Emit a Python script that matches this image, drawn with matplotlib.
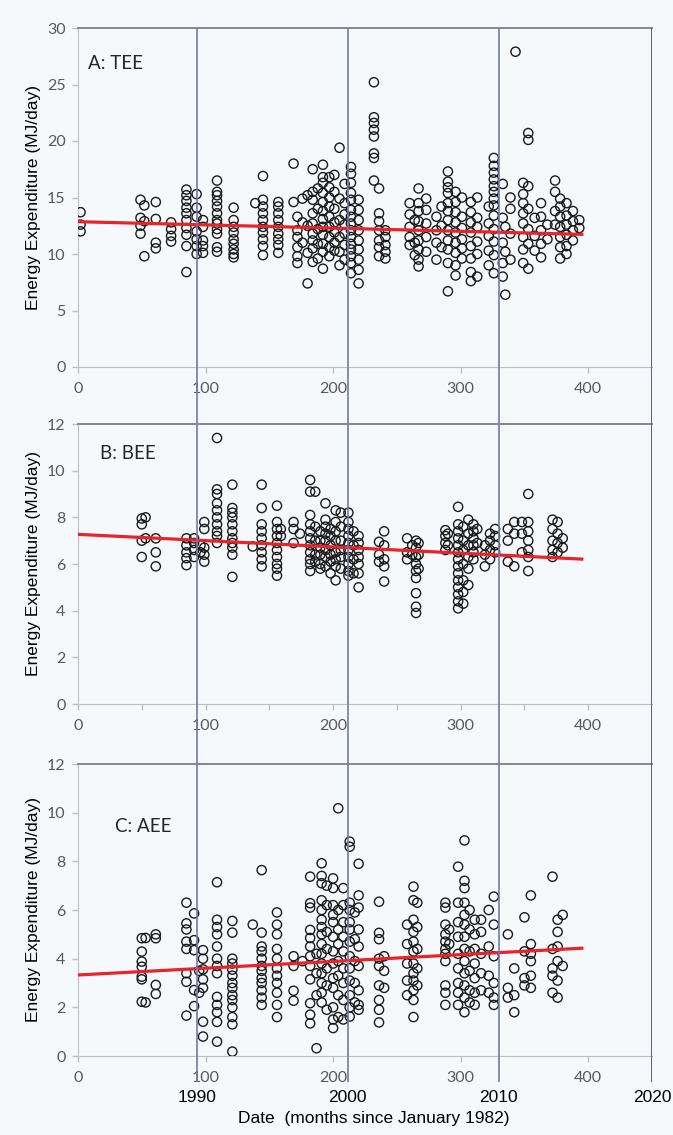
import matplotlib.pyplot as plt
from matplotlib.transforms import blended_transform_factory

# Survey month (months since Jan 1982) and the values measured in that survey
tee_months = [2, 49, 52, 61, 73, 85, 93, 98, 109, 122, 139, 145, 157,
              169, 172, 176, 180, 184, 188, 192, 197, 201, 205, 209, 214, 220,
              232, 236, 241, 260, 264, 267, 273, 281, 285, 290, 296, 301, 308,
              313, 322, 326, 333, 335, 339, 343, 349, 353, 358, 363, 368, 374,
              378, 383, 388, 393]
tee_values = [
    [13.7, 12.6, 12.0],
    [14.8, 13.2, 12.5, 11.8],
    [14.3, 12.9, 9.8],
    [14.6, 13.1, 11.0, 10.5],
    [12.8, 12.2, 11.6, 11.1],
    [15.7, 15.2, 14.7, 14.1, 13.6, 13.0, 12.3, 11.7, 10.7, 8.4],
    [15.3, 14.1, 13.3, 12.0, 11.3, 10.7, 10.0],
    [13.0, 12.4, 11.2, 10.7, 10.1],
    [16.5, 15.5, 15.2, 14.7, 14.2, 13.6, 13.0, 12.7, 12.2, 11.8, 10.6, 10.2],
    [14.1, 13.0, 12.4, 11.9, 11.3, 10.9, 10.4, 10.0, 9.7],
    [14.5],
    [16.9, 14.8, 14.2, 13.6, 13.0, 12.4, 11.9, 11.3, 10.7, 9.9],
    [14.6, 14.2, 13.6, 13.0, 12.4, 11.8, 11.3, 10.8, 10.1],
    [18.0, 14.6],
    [13.3, 12.1, 11.5, 10.6, 9.8, 9.2],
    [14.9, 12.8, 11.0],
    [7.4, 15.2, 12.5, 10.1],
    [17.5, 15.5, 14.8, 13.6, 12.7, 11.8, 11.2, 10.5, 9.3],
    [15.8, 14.0, 12.2, 10.9, 9.6],
    [17.9, 16.8, 16.3, 15.4, 14.6, 13.8, 13.1, 12.4, 11.7, 10.9, 10.2, 8.7],
    [16.8, 15.9, 15.0, 14.2, 13.3, 12.4, 11.5, 10.6, 9.8],
    [17.0, 15.5, 14.0, 12.8, 11.9, 11.0, 10.3],
    [19.4, 14.9, 13.0, 11.5, 10.2, 9.0],
    [16.2, 14.5, 13.5, 12.6, 11.8, 10.8, 9.5],
    [17.7, 17.1, 16.3, 15.4, 14.8, 13.9, 13.3, 12.7, 12.1, 11.5, 10.9, 10.4,
     9.8, 9.2, 8.3],
    [14.8, 13.9, 13.0, 12.1, 11.2, 10.4, 9.5, 8.6, 7.4],
    [25.2, 22.1, 21.6, 21.0, 20.4, 18.9, 18.5, 16.5],
    [15.8, 13.6, 12.9, 12.1, 11.2, 10.6, 9.8],
    [12.1, 11.5, 10.8, 10.2, 9.6],
    [14.5, 13.5, 12.4, 11.5, 10.8],
    [13.0, 11.0, 9.9],
    [15.8, 14.5, 13.8, 12.9, 12.1, 11.2, 10.4, 9.5, 8.9],
    [14.9, 13.9, 12.7, 11.5, 10.2],
    [13.3, 12.1, 11.0, 9.5],
    [14.2, 12.5, 10.6],
    [17.3, 16.4, 15.9, 15.4, 14.5, 13.8, 13.0, 12.1, 11.2, 10.4, 9.2, 6.7],
    [15.5, 14.6, 13.7, 12.8, 11.9, 11.0, 10.1, 9.0, 8.1],
    [15.0, 13.3, 12.3, 11.3, 10.5, 9.6],
    [14.6, 13.7, 12.8, 11.9, 10.7, 9.6, 8.4, 7.6],
    [15.0, 13.2, 12.4, 11.1, 10.0, 8.0],
    [14.2, 12.7, 11.6, 10.3, 9.0],
    [18.5, 17.8, 17.2, 16.6, 16.0, 15.5, 14.9, 14.3, 13.4, 12.2, 11.1, 9.9, 8.3],
    [16.2, 13.2, 11.0, 9.2, 8.0],
    [6.4, 12.4, 10.2],
    [15.0, 14.0, 11.8, 9.5],
    [27.9],
    [16.3, 15.3, 14.5, 13.6, 12.7, 11.5, 10.4, 9.2],
    [20.7, 20.1, 16.0, 14.0, 12.2, 10.9, 8.7],
    [13.2, 11.6, 10.3],
    [14.5, 13.3, 12.1, 10.9, 9.7],
    [12.6, 11.3],
    [16.5, 15.5, 13.8, 12.6],
    [14.9, 14.2, 13.3, 12.4, 11.5, 10.6, 9.6],
    [14.5, 13.4, 12.6, 11.7, 10.7, 10.0],
    [13.8, 12.9, 12.1, 11.2],
    [13.0, 12.3],
]

bee_months = [50, 53, 61, 85, 91, 96, 99, 109, 121, 137, 144, 156, 159, 169,
              174, 182, 186, 190, 194, 198, 202, 206, 212, 216, 220, 236, 240,
              258, 262, 265, 267, 288, 290, 298, 302, 306, 310, 313, 319, 323,
              327, 337, 342, 348, 353, 372, 376, 380]
bee_values = [
    [7.95, 7.7, 7.0, 6.3],
    [8.0, 7.1],
    [7.1, 6.5, 5.9],
    [7.1, 6.8, 6.5, 6.25, 5.95],
    [7.1, 6.9, 6.6, 6.3],
    [6.8, 6.5],
    [7.8, 7.5, 6.7, 6.4, 6.1],
    [11.4, 9.2, 9.0, 8.6, 8.3, 8.0, 7.7, 7.4, 7.2, 6.9],
    [9.4, 8.4, 8.2, 8.0, 7.7, 7.4, 7.1, 6.9, 6.7, 6.4, 5.45],
    [6.75],
    [9.4, 8.4, 7.7, 7.4, 7.1, 6.8, 6.5, 6.2, 5.9],
    [8.5, 7.8, 7.5, 7.2, 6.9, 6.6, 6.3, 6.0, 5.8, 5.5],
    [7.5, 7.2],
    [7.8, 7.5, 6.9],
    [7.3],
    [9.6, 9.1, 8.1, 7.7, 7.4, 7.1, 6.8, 6.5, 6.2, 6.0, 5.7],
    [9.1, 7.6, 7.0, 6.4, 6.1],
    [7.4, 7.0, 6.7, 6.4, 6.0, 5.8],
    [8.6, 7.9, 7.6, 7.3, 7.0, 6.6, 6.3, 5.9],
    [7.5, 7.2, 6.8, 6.4, 6.1, 5.6],
    [8.3, 7.8, 7.4, 7.0, 6.5, 6.2, 5.9, 5.3],
    [8.2, 7.6, 7.0, 6.6, 6.3, 5.8],
    [8.2, 7.8, 7.5, 7.2, 6.9, 6.6, 6.3, 6.0, 5.7, 5.5],
    [7.4, 6.8, 6.2, 5.6],
    [7.2, 6.9, 6.6, 6.3, 6.0, 5.6, 5.0],
    [6.95, 6.4, 6.1],
    [7.4, 6.8, 6.2, 5.9, 5.25],
    [7.1, 6.5, 6.2],
    [6.8, 6.4],
    [7.0, 6.7, 6.3, 6.0, 5.7, 5.4, 4.75, 4.17, 3.9],
    [6.9, 6.4, 5.8],
    [7.45, 7.2, 6.9, 6.6],
    [7.3, 6.8],
    [8.45, 7.7, 7.4, 7.1, 6.8, 6.5, 6.2, 5.9, 5.6, 5.3, 5.0, 4.7, 4.4, 4.1],
    [7.6, 7.0, 6.6, 6.0, 5.3, 4.8, 4.3],
    [7.9, 7.3, 6.8, 6.3, 5.8, 5.1],
    [7.7, 7.4, 7.1, 6.8, 6.5, 6.2],
    [7.5, 6.9],
    [6.8, 6.4, 5.9],
    [7.3, 7.0, 6.6, 6.2],
    [7.5, 7.2, 6.8, 6.5],
    [7.5, 7.0, 6.1],
    [7.8, 7.3, 5.9],
    [7.8, 7.3, 6.5],
    [9.0, 7.8, 7.4, 7.0, 6.6, 6.3, 5.7],
    [7.9, 7.5, 7.0, 6.6, 6.3],
    [7.8, 7.3, 6.9, 6.5],
    [7.1, 6.7],
]

aee_months = [50, 53, 61, 85, 91, 95, 98, 109, 121, 137, 144, 156, 169, 176,
              182, 187, 191, 195, 200, 204, 208, 213, 217, 220, 236, 240, 258,
              263, 266, 288, 291, 298, 303, 307, 311, 316, 322, 326, 337, 342,
              350, 355, 372, 376, 380]
aee_values = [
    [4.84, 4.29, 3.88, 3.67, 3.26, 3.15, 2.23],
    [4.85, 2.2],
    [5.0, 4.84, 2.92, 2.55],
    [6.3, 5.45, 5.2, 4.7, 4.4, 3.4, 3.05, 1.66],
    [5.86, 4.76, 4.35, 2.71, 2.05],
    [3.5, 2.6],
    [4.35, 4.0, 3.56, 3.15, 2.8, 1.41, 0.8],
    [7.14, 5.6, 5.3, 5.0, 4.5, 4.0, 3.7, 3.4, 2.43, 2.1, 1.8, 1.4, 0.59],
    [5.55, 5.07, 4.0, 3.8, 3.55, 3.3, 3.0, 2.8, 2.5, 2.3, 2.0, 1.6, 1.3, 0.18],
    [5.4],
    [7.64, 5.07, 4.5, 4.3, 4.0, 3.7, 3.5, 3.2, 3.0, 2.7, 2.4, 2.1],
    [5.9, 5.4, 5.0, 4.4, 4.0, 3.6, 3.3, 3.0, 2.6, 2.1, 1.6],
    [4.1, 3.7, 2.68, 2.27],
    [3.9],
    [7.37, 6.28, 6.1, 5.18, 4.85, 4.5, 4.1, 3.7, 3.15, 2.17, 1.7, 1.34],
    [0.32, 4.2, 3.4, 2.5],
    [7.92, 7.4, 7.1, 6.4, 6.0, 5.6, 5.3, 5.0, 4.6, 4.2, 3.8, 3.4, 3.0, 2.6, 2.2],
    [7.0, 6.2, 5.1, 4.4, 3.6, 2.9, 1.9],
    [7.3, 6.9, 6.2, 5.8, 5.5, 4.9, 4.3, 3.8, 3.2, 2.8, 2.0, 1.5, 1.15],
    [10.18, 6.0, 5.2, 4.6, 3.9, 3.3, 2.5, 1.6],
    [6.9, 6.2, 5.5, 4.9, 4.3, 3.6, 3.0, 2.3, 1.5],
    [8.81, 8.6, 6.3, 6.0, 5.5, 5.2, 4.7, 4.1, 3.6, 3.1, 2.5, 2.0, 1.62],
    [5.9, 4.8, 3.9, 3.0, 2.2],
    [7.9, 6.6, 6.1, 5.2, 4.5, 3.7, 2.7, 2.1, 1.9],
    [6.34, 5.06, 4.8, 4.0, 3.7, 2.9, 2.3, 1.9, 1.38],
    [4.1, 3.5, 2.8],
    [5.4, 4.6, 3.8, 3.1, 2.5],
    [6.96, 6.4, 5.6, 5.1, 4.7, 4.3, 3.8, 3.4, 3.1, 2.7, 2.3, 1.6],
    [6.3, 5.3, 4.4, 3.6, 2.9],
    [6.3, 6.1, 5.4, 5.0, 4.7, 4.4, 4.2, 3.9, 2.9, 2.6, 2.1],
    [5.2, 4.6],
    [7.78, 6.3, 5.5, 4.9, 4.2, 3.6, 3.0, 2.6, 2.1],
    [8.86, 7.2, 6.9, 6.3, 5.8, 5.4, 4.9, 4.4, 3.9, 3.4, 2.9, 2.4, 1.8],
    [6.0, 5.2, 4.3, 3.5, 2.7, 2.2],
    [5.6, 5.0, 4.4, 3.8, 3.2, 2.6, 2.1],
    [5.6, 5.1, 4.2, 3.4, 2.7],
    [6.0, 4.5, 3.3, 2.6],
    [6.55, 5.4, 4.1, 3.0, 2.4, 2.1],
    [5.0, 2.8, 2.4],
    [3.6, 2.5, 1.8],
    [5.7, 4.3, 3.2, 2.9],
    [6.6, 4.6, 4.2, 3.9, 3.3, 2.8],
    [7.37, 4.4, 3.6, 3.3, 2.6],
    [5.6, 5.1, 4.5, 3.9, 3.1, 2.4],
    [5.8, 3.7],
]

# Linear trend end points (month 0 and month 395)
trend_months = [0, 395]
tee_trend = [12.86, 11.74]
bee_trend = [7.27, 6.21]
aee_trend = [3.33, 4.43]

# Decade markers
year_months = [93, 211.5, 330, 450]
year_labels = ['1990', '2000', '2010', '2020']

BG = '#f5f9fc'
TICK_GREY = '#595959'
AXIS_GREY = '#bfbfbf'

fig = plt.figure(figsize=(6.73, 11.35), dpi=100, facecolor=BG)

W, H = 673, 1135
left, right = 78, 652


def add_panel(top, bottom):
    return fig.add_axes([left / W, 1 - bottom / H, (right - left) / W, (bottom - top) / H])


ax_a = add_panel(28, 367)
ax_b = add_panel(424, 704)
ax_c = add_panel(764, 1056)

panels = [
    (ax_a, tee_months, tee_values, tee_trend, 30, 5, 'A: TEE', (8, 26.9), False),
    (ax_b, bee_months, bee_values, bee_trend, 12, 2, 'B: BEE', (17, 10.75), True),
    (ax_c, aee_months, aee_values, aee_trend, 12, 2, 'C: AEE', (29, 9.45), False),
]

for ax, months, values, trend, ymax, ystep, title, tpos, minor in panels:
    xs, ys = [], []
    for m, vals in zip(months, values):
        xs += [m] * len(vals)
        ys += vals
    ax.set_facecolor(BG)
    ax.scatter(xs, ys, s=44, facecolors='none', edgecolors='#1a1a1a',
               linewidths=1.0, zorder=3)
    ax.plot(trend_months, trend, color='#e8232a', lw=2.3, zorder=4)

    ax.set_xlim(0, 450)
    ax.set_ylim(0, ymax)
    ax.set_xticks(range(0, 401, 100))
    if minor:
        ax.set_xticks(range(0, 401, 50), minor=True)
    ax.set_yticks(range(0, ymax + 1, ystep))
    ax.tick_params(axis='both', which='both', direction='out', length=4,
                   color=AXIS_GREY, labelcolor=TICK_GREY, labelsize=11.5, width=1)
    ax.tick_params(axis='x', pad=7)
    ax.tick_params(axis='y', pad=5)
    for lab in ax.get_xticklabels() + ax.get_yticklabels():
        lab.set_family('Lato')

    ax.spines['top'].set_color('#7f7f7f')
    ax.spines['top'].set_linewidth(1.3)
    ax.spines['right'].set_visible(False)
    ax.spines['left'].set_color(AXIS_GREY)
    ax.spines['bottom'].set_color(AXIS_GREY)

    ax.text(tpos[0], tpos[1], title, family='Lato', fontsize=13.5,
            color='#262626', va='center', ha='left')
    ax.set_ylabel('Energy Expenditure (MJ/day)', family='Liberation Sans',
                  fontsize=12.5, labelpad=4)

# Decade lines running through all three panels
ov = fig.add_axes([left / W, 1 - 1082 / H, (right - left) / W, (1082 - 28) / H])
ov.set_xlim(0, 450)
ov.set_ylim(0, 1)
ov.patch.set_visible(False)
ov.axis('off')
for m in year_months[:-1]:
    ov.axvline(m, color='#7478ab', lw=1.2, zorder=5)
ov.axvline(year_months[-1], color='#4d5080', lw=2.0, zorder=5)

trans = blended_transform_factory(ov.transData, fig.transFigure)
for m, lab in zip(year_months, year_labels):
    ov.text(m, 1 - 1097 / H, lab, transform=trans, ha='center', va='center',
            family='Liberation Sans', fontsize=12.5, color='black')

fig.text((230 + 518) / 2 / W, 1 - 1118 / H, 'Date  (months since January 1982)',
         ha='center', va='center', family='Liberation Sans', fontsize=12.5)

fig.savefig('out.png', dpi=100, facecolor=BG)
